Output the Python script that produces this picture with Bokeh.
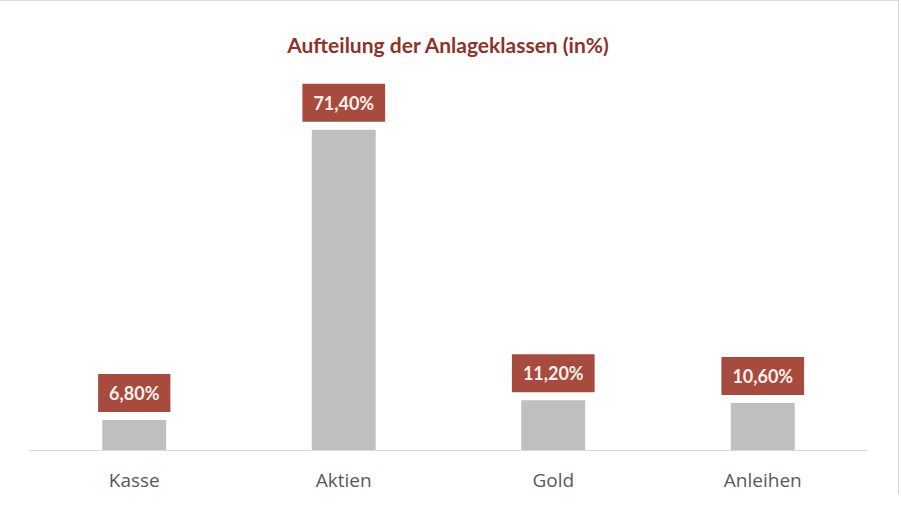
from bokeh.plotting import figure
from bokeh.models import ColumnDataSource, Range1d, FactorRange
from bokeh.core.properties import value
from bokeh.embed import file_html
from bokeh.resources import INLINE

categories = ["Kasse", "Aktien", "Gold", "Anleihen"]
values = [6.8, 71.4, 11.2, 10.6]
labels = ["6,80%", "71,40%", "11,20%", "10,60%"]

source = ColumnDataSource(data=dict(cat=categories, val=values, lab=labels))

p = figure(width=899, height=494, x_range=FactorRange(*categories),
           y_range=Range1d(0, 85.5), output_backend="svg", toolbar_location=None,
           min_border_left=29, min_border_right=32, min_border_bottom=17, min_border_top=20)

p.title.text = "Aufteilung der Anlageklassen (in%)"
p.title.align = "center"
p.title.text_font = "Lato"
p.title.text_font_style = "bold"
p.title.text_font_size = "21px"
p.title.text_color = "#8E3328"
p.title.standoff = 20
p.title.padding = dict(left=0, right=0, top=18, bottom=0)

p.vbar(x="cat", top="val", width=0.305, source=source, color="#BFBFBF", line_color=None)

p.text(x="cat", y="val", text="lab", source=source, text_align="center",
       text_baseline="bottom", y_offset=-8, text_font=value("Lato"),
       text_font_style="bold", text_font_size="18px", text_color="#FBF1EC",
       background_fill_color="#A64B3E",
       padding=dict(left=11, right=11, top=8, bottom=8))

p.yaxis.visible = False
p.xgrid.grid_line_color = None
p.ygrid.grid_line_color = None
p.outline_line_color = None
p.xaxis.axis_line_color = "#D9D9D9"
p.xaxis.major_tick_line_color = None
p.xaxis.minor_tick_line_color = None
p.xaxis.major_label_standoff = 10
p.xaxis.major_label_text_font = "Open Sans"
p.xaxis.major_label_text_font_size = "19px"
p.xaxis.major_label_text_color = "#595959"
p.styles = {"border-top": "1px solid #D9D9D9", "border-right": "1px solid #D9D9D9"}

open("out.html", "w").write(file_html(p, INLINE))
